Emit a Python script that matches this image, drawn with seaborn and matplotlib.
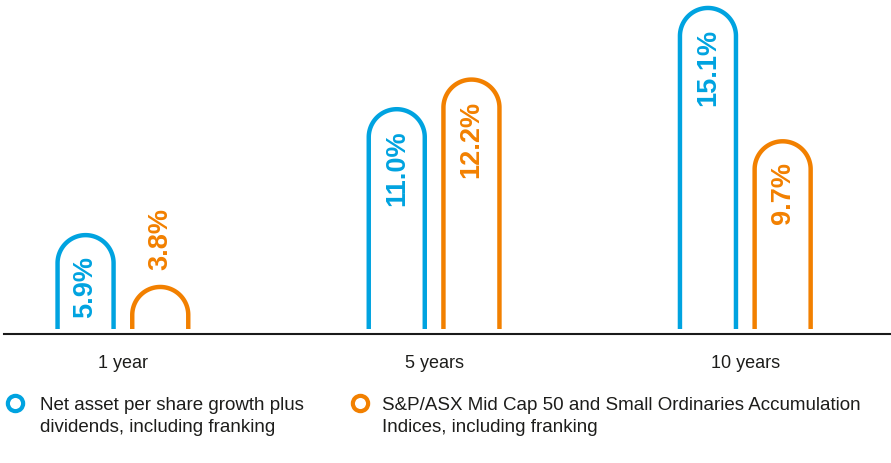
import numpy as np
import pandas as pd
import seaborn as sns
import matplotlib.pyplot as plt
from matplotlib.path import Path
from matplotlib.patches import PathPatch
from matplotlib.lines import Line2D

# Annualised returns by period
periods = ["1 year", "5 years", "10 years"]
series_names = [
    "Net asset per share growth plus\ndividends, including franking",
    "S&P/ASX Mid Cap 50 and Small Ordinaries Accumulation\nIndices, including franking",
]
nav_growth = [5.9, 11.0, 15.1]
index_return = [3.8, 12.2, 9.7]
colors = ["#00A3E0", "#F28000"]
text_color = "#1d1d1b"

sns.set_style("white")
plt.rcParams["font.family"] = ["Liberation Sans", "DejaVu Sans"]

W, H = 891, 463
fig = plt.figure(figsize=(W / 100, H / 100), dpi=100)
ax = fig.add_axes([4 / W, (H - 334) / H, (W - 4) / W, 334 / H])

df = pd.DataFrame({
    "period": periods * 2,
    "series": [series_names[0]] * len(periods) + [series_names[1]] * len(periods),
    "value": nav_growth + index_return,
})

sns.barplot(data=df, x="period", y="value", hue="series", hue_order=series_names,
            palette=colors, width=0.48, gap=0.25, errorbar=None, legend=False, ax=ax)

x0, x1 = -0.3821, 2.4682
y0, y1 = 1.895, 15.423
ax.set_xlim(x0, x1)
ax.set_ylim(y0, y1)

for side in ("left", "top", "right"):
    ax.spines[side].set_visible(False)
ax.spines["bottom"].set_linewidth(1.5)
ax.spines["bottom"].set_color("#1a1a1a")
ax.set_yticks([])
ax.set_xlabel("")
ax.set_ylabel("")
ax.tick_params(axis="x", length=0, pad=15, labelsize=13, labelcolor=text_color)

px_per_x = ax.bbox.width / (x1 - x0)
px_per_y = ax.bbox.height / (y1 - y0)
floor = y0 + 5 / px_per_y

fig.canvas.draw()
renderer = fig.canvas.get_renderer()

# Replace each rectangle with an open-bottomed arch outline
theta = np.linspace(np.pi, 0, 80)
for container, color in zip(ax.containers, colors):
    for bar in container:
        x, w, v = bar.get_x(), bar.get_width(), bar.get_height()
        bar.set_visible(False)
        rx = w / 2
        ry = rx * px_per_x / px_per_y
        cx = x + rx
        verts = [(x, floor)]
        verts += list(zip(cx + rx * np.cos(theta), v - ry + ry * np.sin(theta)))
        verts += [(x + w, floor)]
        ax.add_patch(PathPatch(Path(verts), fill=False, edgecolor=color, lw=3.2,
                               capstyle="butt", joinstyle="round", clip_on=False))

        label = ax.annotate(f"{v:.1f}%", xy=(cx, v), xytext=(0, -15),
                            textcoords="offset points", rotation=90,
                            ha="center", va="top", color=color,
                            fontsize=19.5, fontweight="bold", annotation_clip=False)
        ext = label.get_window_extent(renderer)
        floor_px = ax.transData.transform((cx, floor))[1]
        if ext.y0 < floor_px + 4:
            label.set_va("bottom")
            label.xyann = (0, 12)

# Legend entries
legend_items = [(15, 40), (360, 382)]
for (mx, tx), name, color in zip(legend_items, series_names, colors):
    fig.add_artist(Line2D([mx / W], [1 - 403 / H], transform=fig.transFigure,
                          marker="o", ms=11, mew=3, mfc="white", mec=color, ls=""))
    fig.text(tx / W, 1 - 396.5 / H, name, fontsize=13.5, ha="left", va="top",
             linespacing=1.45, color=text_color)

fig.savefig("out.png", dpi=100)
